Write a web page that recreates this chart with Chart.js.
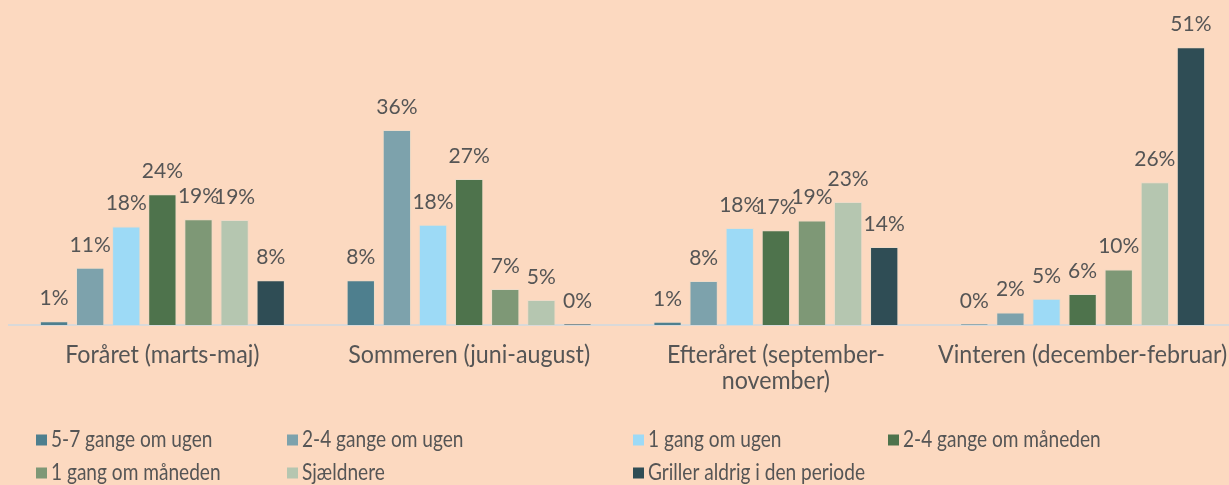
<!DOCTYPE html>
<html>
<head>
<meta charset="utf-8">
<script src="https://cdn.jsdelivr.net/npm/chart.js@4"></script>
<style>
  html, body { margin: 0; padding: 0; background: #FCD9C0; overflow: hidden; }
  #wrap { width: 1240px; height: 485px; }
  canvas { display: block; }
</style>
</head>
<body>
<div id="wrap"><canvas id="c" width="1240" height="485" style="width:1240px;height:485px"></canvas></div>
<script>
const categories = ["Foråret (marts-maj)", "Sommeren (juni-august)", ["Efteråret (september-", "november)"], "Vinteren (december-februar)"];
const seriesNames = ["5-7 gange om ugen", "2-4 gange om ugen", "1 gang om ugen", "2-4 gange om måneden", "1 gang om måneden", "Sjældnere", "Griller aldrig i den periode"];
const s57ugen   = [0.7, 8.2, 0.6, 0.2];
const s24ugen   = [10.5, 35.8, 8.1, 2.3];
const s1ugen    = [18.1, 18.4, 17.8, 4.8];
const s24maaned = [24.0, 26.8, 17.4, 5.7];
const s1maaned  = [19.4, 6.6, 19.2, 10.2];
const sjaeldnere = [19.3, 4.6, 22.6, 26.2];
const aldrig    = [8.2, 0.2, 14.3, 51.0];
const seriesColors = ["#4E7F8E", "#7DA2AC", "#9DDAF6", "#4E734C", "#7E9876", "#B5C6B0", "#2F4D55"];

const FONT = "Lato, 'DejaVu Sans Condensed', sans-serif";
const TEXT = "#555555";
const allSeries = [s57ugen, s24ugen, s1ugen, s24maaned, s1maaned, sjaeldnere, aldrig];

const datasets = allSeries.map((d, i) => ({
  label: seriesNames[i],
  data: d,
  backgroundColor: seriesColors[i],
  borderColor: 'rgba(225,220,205,0.55)',
  borderWidth: 1,
  categoryPercentage: 0.824,
  barPercentage: 0.784
}));

function squeezedText(ctx, text, x, y, sx) {
  ctx.save();
  ctx.translate(x, y);
  ctx.scale(sx, 1);
  ctx.fillText(text, 0, 0);
  ctx.restore();
}

const valueLabels = {
  id: 'valueLabels',
  afterDatasetsDraw(chart) {
    const ctx = chart.ctx;
    ctx.save();
    ctx.font = "21px " + FONT;
    ctx.fillStyle = TEXT;
    ctx.textAlign = 'center';
    ctx.textBaseline = 'alphabetic';
    chart.data.datasets.forEach((ds, i) => {
      const meta = chart.getDatasetMeta(i);
      meta.data.forEach((el, j) => {
        squeezedText(ctx, Math.round(ds.data[j]) + "%", el.x, el.y - 16, 1);
      });
    });
    ctx.restore();
  }
};

const categoryLabels = {
  id: 'categoryLabels',
  afterDraw(chart) {
    const ctx = chart.ctx;
    const xs = chart.scales.x;
    ctx.save();
    ctx.font = "25px " + FONT;
    ctx.fillStyle = TEXT;
    ctx.textAlign = 'center';
    ctx.textBaseline = 'middle';
    chart.data.labels.forEach((lab, i) => {
      const lines = Array.isArray(lab) ? lab : [lab];
      const x = xs.getPixelForTick(i);
      lines.forEach((ln, k) => {
        squeezedText(ctx, ln, x, xs.top + 30 + k * 26, 0.93);
      });
    });
    ctx.restore();
  }
};

const customLegend = {
  id: 'customLegend',
  afterDraw(chart) {
    const ctx = chart.ctx;
    ctx.save();
    ctx.font = "23px " + FONT;
    ctx.textBaseline = 'middle';
    ctx.textAlign = 'left';
    const cols = [36, 287, 633, 888];
    const rows = [440, 473];
    chart.data.datasets.forEach((ds, i) => {
      const x = cols[i % 4];
      const y = rows[Math.floor(i / 4)];
      ctx.fillStyle = ds.backgroundColor;
      ctx.fillRect(x, y - 5.5, 11, 11);
      ctx.fillStyle = TEXT;
      squeezedText(ctx, ds.label, x + 15, y, 0.83);
    });
    ctx.restore();
  }
};

new Chart(document.getElementById('c'), {
  type: 'bar',
  data: { labels: categories, datasets },
  options: {
    responsive: false,
    animation: false,
    layout: { autoPadding: false, padding: { left: 9, right: 4, top: 20, bottom: 0 } },
    plugins: {
      legend: { display: false },
      tooltip: { enabled: false }
    },
    scales: {
      x: {
        grid: { display: false, drawTicks: false },
        border: { display: true, color: '#D9D9D9', width: 2 },
        ticks: { display: false },
        afterFit(scale) { scale.height = 160; }
      },
      y: {
        display: false,
        min: 0,
        max: 56
      }
    }
  },
  plugins: [valueLabels, categoryLabels, customLegend]
});
</script>
</body>
</html>
